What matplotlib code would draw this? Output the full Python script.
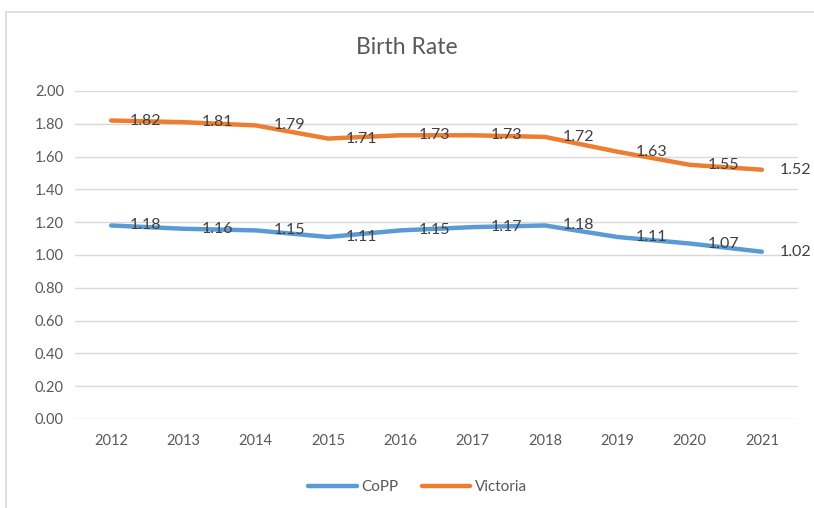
import matplotlib
matplotlib.use("Agg")
import matplotlib.pyplot as plt
from matplotlib.patches import Rectangle

years = ["2012", "2013", "2014", "2015", "2016", "2017", "2018", "2019", "2020", "2021"]
copp = [1.18, 1.16, 1.15, 1.11, 1.15, 1.17, 1.18, 1.11, 1.07, 1.02]
victoria = [1.82, 1.81, 1.79, 1.71, 1.73, 1.73, 1.72, 1.63, 1.55, 1.52]

BLUE = "#5B9BD5"
ORANGE = "#ED7D31"
TEXT = "#595959"

plt.rcParams["font.family"] = ["Lato", "DejaVu Sans"]

fig = plt.figure(figsize=(8.14, 5.08), dpi=100)
ax = fig.add_axes([75 / 814, 1 - 419 / 508, (798 - 75) / 814, (419 - 91) / 508])

# chart frame like the Excel chart area border
fig.patches.append(Rectangle((6 / 814, -0.1), 1.1, 1 - 12 / 508 + 0.1,
                             transform=fig.transFigure, fill=False,
                             edgecolor="#D9D9D9", linewidth=1.2))

x = list(range(len(years)))
for vals, color, name in [(copp, BLUE, "CoPP"), (victoria, ORANGE, "Victoria")]:
    ax.plot(x, vals, color=color, linewidth=3.2, solid_joinstyle="round",
            solid_capstyle="round", label=name)
    for xi, v in zip(x, vals):
        ax.annotate(f"{v:.2f}", (xi, v), xytext=(13, 0), textcoords="offset points",
                    ha="left", va="center", fontsize=11.5, color="#404040")

ax.set_xlim(-0.5, len(years) - 0.5)
ax.set_ylim(0, 2.0)
ax.set_yticks([i * 0.2 for i in range(11)])
ax.set_yticklabels([f"{i * 0.2:.2f}" for i in range(11)])
ax.set_xticks(x)
ax.set_xticklabels(years)
ax.tick_params(length=0, labelsize=10.5, colors=TEXT, pad=8)
ax.tick_params(axis="x", pad=11)
ax.grid(axis="y", color="#D9D9D9", linewidth=1)
ax.set_axisbelow(True)
for s in ax.spines.values():
    s.set_visible(False)

fig.text(0.5, 1 - 47 / 508, "Birth Rate", ha="center", va="center",
         fontsize=16.5, color=TEXT)

fig.legend(loc="center", bbox_to_anchor=(0.513, 1 - 487 / 508), ncol=2,
           frameon=False, fontsize=11, labelcolor=TEXT, handlelength=3.2,
           columnspacing=1.5, handletextpad=0.3)

fig.savefig("out.png", dpi=100)
